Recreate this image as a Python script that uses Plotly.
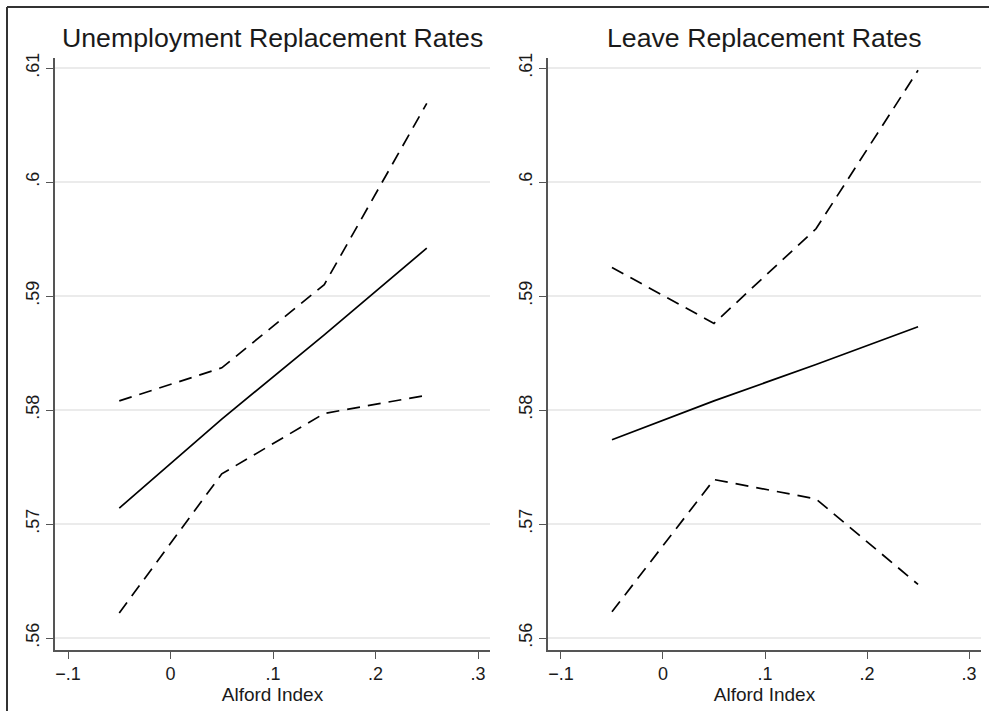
import plotly.graph_objects as go

# ---- data ----
alford = [-0.05, 0.05, 0.15, 0.25]

unemp_fit = [0.5714, 0.5792, 0.5866, 0.5942]
unemp_hi = [0.5808, 0.5837, 0.5910, 0.6069]
unemp_lo = [0.5622, 0.5744, 0.5797, 0.5813]

leave_fit = [0.5774, 0.5808, 0.5840, 0.5873]
leave_hi = [0.5925, 0.5876, 0.5959, 0.6098]
leave_lo = [0.5623, 0.5739, 0.5722, 0.5647]

panel_titles = ["Unemployment Replacement Rates", "Leave Replacement Rates"]
x_title = "Alford Index"
x_tickvals = [-0.1, 0, 0.1, 0.2, 0.3]
x_ticktext = ["\u2212.1", "0", ".1", ".2", ".3"]
y_tickvals = [0.56, 0.57, 0.58, 0.59, 0.60, 0.61]
y_ticktext = [".56", ".57", ".58", ".59", ".6", ".61"]

FONT = "Liberation Sans, Arial, Helvetica, sans-serif"
W, H = 989, 711
ML, MR, MT, MB = 55, 8, 58, 61
PW = W - ML - MR
PH = H - MT - MB

fig = go.Figure()

panels = [(unemp_fit, unemp_hi, unemp_lo), (leave_fit, leave_hi, leave_lo)]
for i, (fit, hi, lo) in enumerate(panels):
    xa = "x" if i == 0 else "x2"
    ya = "y" if i == 0 else "y2"
    for ys, dash in [(hi, "13px,8px"), (lo, "13px,8px"), (fit, "solid")]:
        fig.add_trace(go.Scatter(
            x=alford, y=ys, mode="lines", xaxis=xa, yaxis=ya,
            line=dict(color="black", width=1.7, dash=dash),
            showlegend=False, hoverinfo="skip"))

left_end = (490 - ML) / PW
right_start = (548 - ML) / PW

axis_common = dict(
    showline=True, linecolor="#555555", linewidth=1.6,
    ticks="outside", ticklen=7, tickcolor="#555555", tickwidth=1.3,
    zeroline=False, mirror=False, automargin=False,
    tickfont=dict(family=FONT, size=18, color="#1a1a1a"),
)

xr = [-0.1127, 0.3117]
yr = [0.55895, 0.61088]

for i, dom in enumerate([[0, left_end], [right_start, 1]]):
    sx = "" if i == 0 else "2"
    fig.update_layout(**{
        "xaxis" + sx: dict(
            domain=dom, range=xr, anchor="y" + sx,
            tickmode="array", tickvals=x_tickvals, ticktext=x_ticktext,
            showgrid=False,
            title=dict(text=x_title, font=dict(family=FONT, size=19, color="#1a1a1a"), standoff=2),
            **axis_common),
        "yaxis" + sx: dict(
            range=yr, anchor="x" + sx,
            tickmode="array", tickvals=y_tickvals, ticktext=y_ticktext,
            tickangle=-90,
            showgrid=True, gridcolor="#ebebeb", gridwidth=1.5,
            **axis_common),
    })

# panel titles
for i, t in enumerate(panel_titles):
    cx = (0 + left_end) / 2 if i == 0 else (right_start + 1) / 2
    fig.add_annotation(
        text=t, x=cx, y=(H - 55 - MB) / PH, xref="paper", yref="paper",
        xanchor="center", yanchor="bottom", showarrow=False,
        font=dict(family=FONT, size=26.7, color="#1a1a1a"))

# outer frame lines (top and left)
def px_x(p):
    return (p - ML) / PW

def px_y(p):
    return (H - MB - p) / PH

fig.add_shape(type="line", xref="paper", yref="paper",
              x0=px_x(7), x1=px_x(W + 5), y0=px_y(7), y1=px_y(7),
              line=dict(color="#333333", width=2))
fig.add_shape(type="line", xref="paper", yref="paper",
              x0=px_x(7), x1=px_x(7), y0=px_y(7), y1=px_y(H + 5),
              line=dict(color="#333333", width=2))

fig.update_layout(
    template="none",
    width=W, height=H,
    margin=dict(l=ML, r=MR, t=MT, b=MB, pad=0, autoexpand=False),
    plot_bgcolor="white", paper_bgcolor="white",
    font=dict(family=FONT, color="#1a1a1a"),
)

fig.write_html("out.html", config={"displayModeBar": False},
               post_script="document.body.style.margin='0';document.body.style.overflow='hidden';")
